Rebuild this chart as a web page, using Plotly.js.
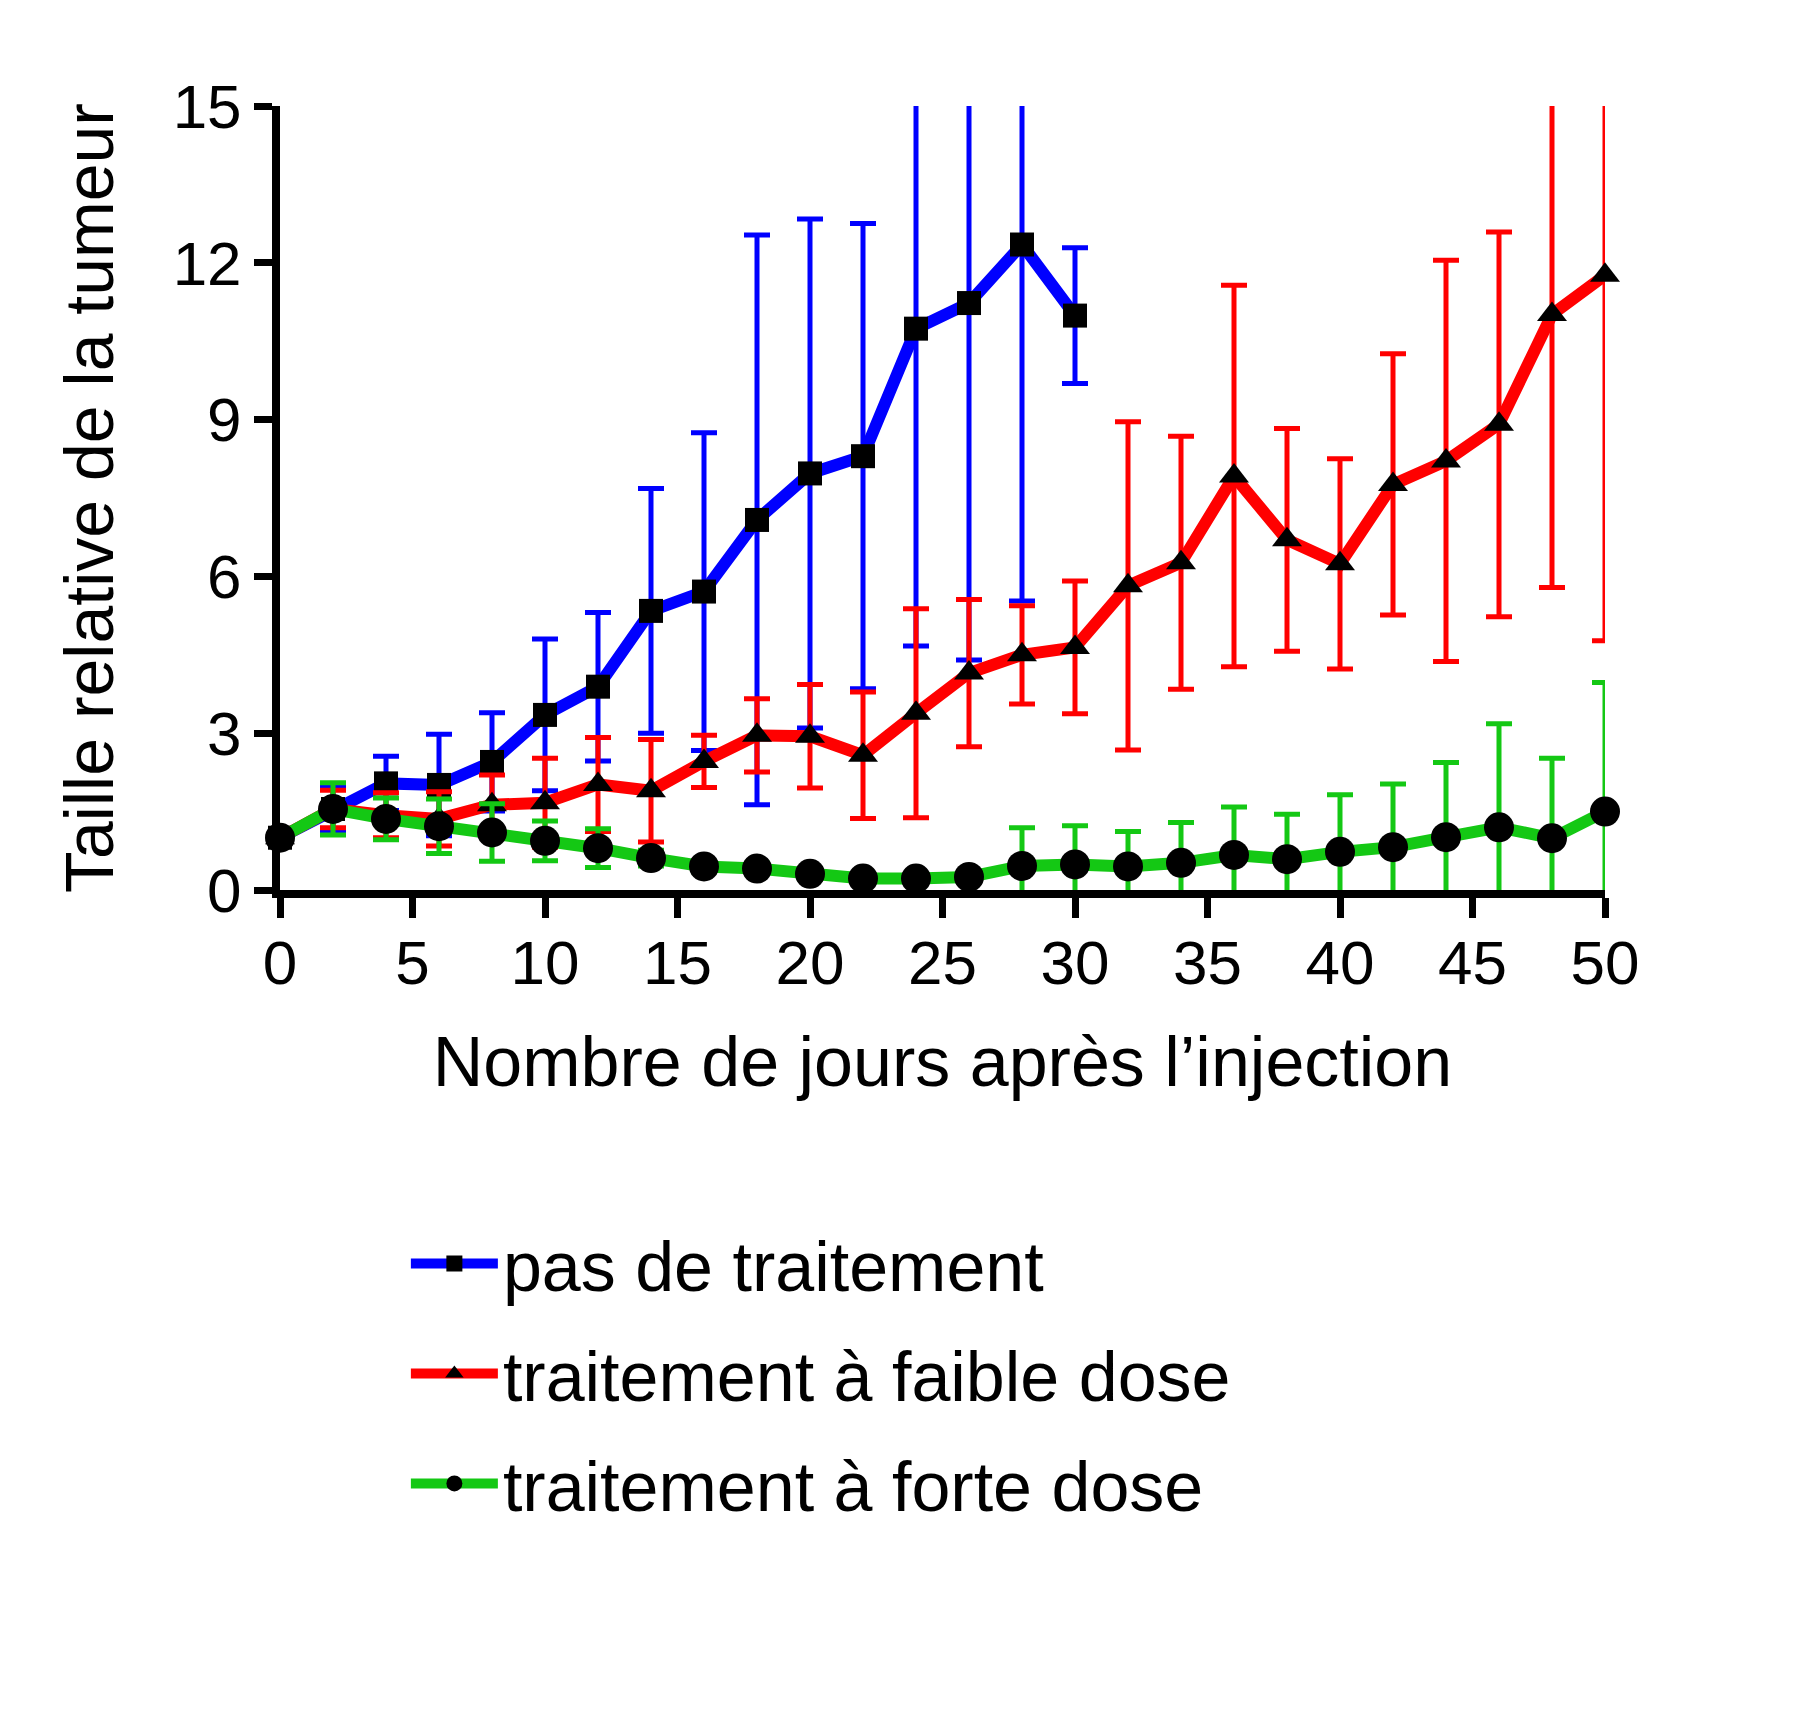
<!DOCTYPE html>
<html>
<head>
<meta charset="utf-8">
<script src="https://cdn.plot.ly/plotly-3.0.1.min.js"></script>
<style>html,body{margin:0;padding:0;background:#fff;}</style>
</head>
<body>
<div id="chart" style="width:1797px;height:1725px;"></div>
<script>
// Days after injection
const days = [0,2,4,6,8,10,12,14,16,18,20,22,24,26,28,30,32,34,36,38,40,42,44,46,48,50];
const daysControl = days.slice(0, 16);

// Series names
const seriesNames = ["pas de traitement", "traitement à faible dose", "traitement à forte dose"];

// pas de traitement (no treatment) — relative tumour size and error
const noTreatment    = [1.0,1.55,2.04,2.01,2.45,3.35,3.89,5.34,5.71,7.08,7.97,8.30,10.74,11.23,12.35,10.99];
const noTreatmentErr = [0,0.43,0.52,0.97,0.94,1.45,1.42,2.34,3.04,5.45,4.87,4.45,6.07,6.83,6.82,1.30];

// traitement à faible dose (low dose)
const lowDose    = [1.0,1.55,1.43,1.36,1.63,1.67,2.02,1.90,2.46,2.96,2.94,2.58,3.38,4.15,4.50,4.64,5.82,6.26,7.92,6.70,6.24,7.76,8.21,8.91,11.01,11.76];
const lowDoseErr = [0,0.36,0.43,0.52,0.57,0.85,0.90,0.98,0.50,0.70,0.99,1.21,2.00,1.41,0.94,1.27,3.14,2.42,3.65,2.13,2.01,2.50,3.84,3.68,5.22,6.99];

// traitement à forte dose (high dose)
const highDose    = [1.0,1.55,1.36,1.22,1.10,0.94,0.80,0.61,0.45,0.41,0.31,0.22,0.22,0.25,0.46,0.49,0.45,0.52,0.67,0.59,0.73,0.82,1.01,1.20,0.99,1.50];
const highDoseErr = [0,0.50,0.40,0.52,0.55,0.38,0.37,0.15,0.10,0.10,0.10,0.08,0.08,0.08,0.73,0.74,0.67,0.77,0.92,0.86,1.09,1.21,1.43,1.98,1.53,2.47];

const xTicks = [0,5,10,15,20,25,30,35,40,45,50];
const yTicks = [0,3,6,9,12,15];

const FONT = "Liberation Sans, Arial, sans-serif";

function trace(x, y, err, name, color, symbol, size, group) {
  return {
    type: "scatter", mode: "lines+markers",
    x: x, y: y, name: name, legendgroup: group,
    cliponaxis: false,
    line: {color: color, width: 12},
    marker: {color: "#000000", symbol: symbol, size: size, line: {width: 0}},
    error_y: {type: "data", array: err, symmetric: true, visible: true,
              color: color, thickness: 5, width: 13}
  };
}

const data = [
  trace(daysControl, noTreatment, noTreatmentErr, seriesNames[0], "#0000ff", "square", 24, "a"),
  trace(days, lowDose, lowDoseErr, seriesNames[1], "#ff0000", "triangle-up", 26, "b"),
  trace(days, highDose, highDoseErr, seriesNames[2], "#14c814", "circle", 30, "c")
];

const layout = {
  width: 1797, height: 1725,
  paper_bgcolor: "#ffffff", plot_bgcolor: "#ffffff",
  margin: {l: 280, r: 192, t: 106, b: 835},
  font: {family: FONT, color: "#000000"},
  showlegend: true,
  legend: {
    x: 0.095, y: -0.41, xanchor: "left", yanchor: "top",
    font: {family: FONT, size: 70, color: "#000000"},
    tracegroupgap: 16, bgcolor: "rgba(0,0,0,0)", borderwidth: 0,
    itemwidth: 87
  },
  xaxis: {
    range: [0, 50], tickvals: xTicks, ticktext: xTicks.map(String),
    ticks: "outside", ticklen: 20, tickwidth: 7, tickcolor: "#000",
    showline: true, linewidth: 8, linecolor: "#000",
    showgrid: false, zeroline: false, ticklabelstandoff: -8,
    tickfont: {family: FONT, size: 62, color: "#000"},
    title: {text: "Nombre de jours après l’injection", font: {family: FONT, size: 70, color: "#000"}, standoff: 44}
  },
  yaxis: {
    range: [0, 15], tickvals: yTicks, ticktext: yTicks.map(String),
    ticks: "outside", ticklen: 18, tickwidth: 7, tickcolor: "#000",
    showline: true, linewidth: 8, linecolor: "#000",
    showgrid: false, zeroline: false,
    tickfont: {family: FONT, size: 62, color: "#000"},
    title: {text: "Taille relative de la tumeur", font: {family: FONT, size: 68, color: "#000"}, standoff: 40}
  }
};

Plotly.newPlot("chart", data, layout, {staticPlot: true, displayModeBar: false});
</script>
</body>
</html>
